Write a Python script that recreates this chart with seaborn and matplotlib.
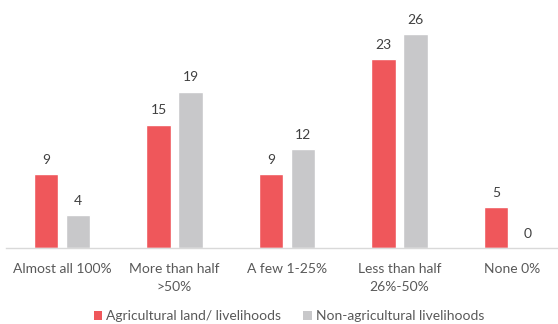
import matplotlib
matplotlib.use("Agg")
import matplotlib.pyplot as plt
import seaborn as sns
import pandas as pd
from matplotlib.patches import Patch

categories = ["Almost all 100%", "More than half\n>50%", "A few 1-25%", "Less than half\n26%-50%", "None 0%"]
series_names = ["Agricultural land/ livelihoods", "Non-agricultural livelihoods"]
agri = [9, 15, 9, 23, 5]
non_agri = [4, 19, 12, 26, 0]
colors = ["#EF575B", "#C8C8CA"]

df = pd.DataFrame({
    "category": categories * 2,
    "series": [series_names[0]] * len(categories) + [series_names[1]] * len(categories),
    "value": agri + non_agri,
})

sns.set_theme(style="white")
plt.rcParams["font.family"] = ["Lato", "DejaVu Sans"]

W, H = 558, 324
fig = plt.figure(figsize=(W / 100, H / 100), dpi=100)
ax = fig.add_axes([5.75 / W, (H - 248) / H, 562.5 / W, 246.6 / H])

sns.barplot(data=df, x="category", y="value", hue="series", palette=colors,
            width=0.569, gap=0.22, saturation=1, ax=ax, legend=False)

for c in ax.containers:
    ax.bar_label(c, padding=6, fontsize=10, color="#404040")

ax.set_ylim(0, 30)
ax.set_xlim(-0.5, 4.5)
ax.set_xlabel("")
ax.set_ylabel("")
ax.set_yticks([])
for s in ["top", "right", "left"]:
    ax.spines[s].set_visible(False)
ax.spines["bottom"].set_color("#D9D9D9")
ax.spines["bottom"].set_linewidth(1)
ax.tick_params(axis="x", length=0, pad=11, labelsize=10, labelcolor="#595959")
for t in ax.get_xticklabels():
    t.set_linespacing(1.6)

handles = [Patch(facecolor=colors[0], edgecolor="none"), Patch(facecolor=colors[1], edgecolor="none")]
fig.legend(handles, series_names, loc="center", bbox_to_anchor=(289 / W, 1 - 316 / H),
           ncol=2, frameon=False, fontsize=10, labelcolor="#595959",
           handlelength=0.6, handleheight=0.6, handletextpad=0.3, columnspacing=1.6,
           borderpad=0.1)

fig.savefig("out.png", dpi=100)
